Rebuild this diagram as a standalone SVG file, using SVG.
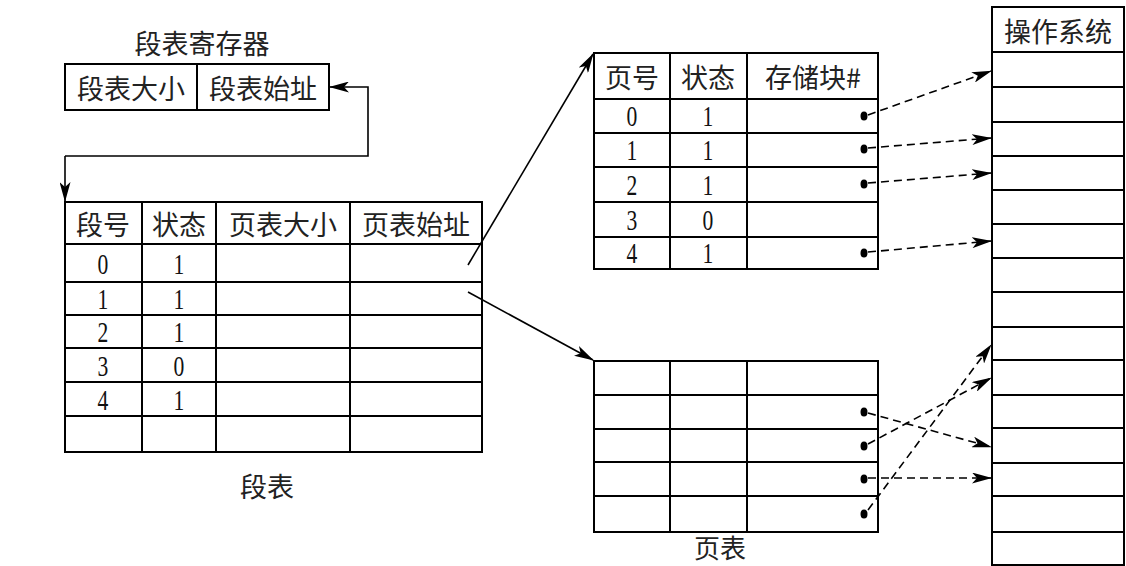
<svg xmlns="http://www.w3.org/2000/svg" width="1126" height="566" viewBox="0 0 1126 566">
<style>
.cell{fill:#fff;stroke:#000;stroke-width:2}
.ln{stroke:#000;stroke-width:2;fill:none}
.cj{font-family:"Noto Sans CJK SC","Noto Sans CJK JP",sans-serif;font-size:27px;fill:#222;text-anchor:middle;dominant-baseline:central}
.num{font-family:"Liberation Serif",serif;font-size:30px;fill:#111;text-anchor:middle;dominant-baseline:central}
.con{stroke:#000;stroke-width:1.6;fill:none}
.dash{stroke:#000;stroke-width:1.6;fill:none;stroke-dasharray:8 5}
.dot{fill:#000}
</style>
<defs>
<marker id="ah" viewBox="0 0 20 11" refX="19" refY="5.5" markerWidth="20" markerHeight="11" markerUnits="userSpaceOnUse" orient="auto">
<path d="M0,0 L20,5.5 L0,11 L5,5.5 z" fill="#000"/>
</marker>
</defs>
<rect width="1126" height="566" fill="#fff"/>

<g id="register">
<text class="cj" x="202" y="42">段表寄存器</text>
<rect class="cell" x="65" y="64" width="264" height="46"/>
<line class="ln" x1="197" y1="64" x2="197" y2="110"/>
<text class="cj" x="131" y="87">段表大小</text>
<text class="cj" x="263" y="87">段表始址</text>
</g>

<g id="segment-table">
<rect class="cell" x="65" y="202" width="417" height="250"/>
<g class="ln">
<line x1="65" y1="244" x2="482" y2="244"/>
<line x1="65" y1="282" x2="482" y2="282"/>
<line x1="65" y1="315" x2="482" y2="315"/>
<line x1="65" y1="348" x2="482" y2="348"/>
<line x1="65" y1="382" x2="482" y2="382"/>
<line x1="65" y1="416" x2="482" y2="416"/>
<line x1="142" y1="202" x2="142" y2="452"/>
<line x1="216" y1="202" x2="216" y2="452"/>
<line x1="350" y1="202" x2="350" y2="452"/>
</g>
<text class="cj" x="103" y="223">段号</text>
<text class="cj" x="179" y="223">状态</text>
<text class="cj" x="283" y="223">页表大小</text>
<text class="cj" x="416" y="223">页表始址</text>
<g transform="translate(103,0) scale(0.72,1)">
<text class="num" x="0" y="264">0</text>
<text class="num" x="0" y="299">1</text>
<text class="num" x="0" y="332">2</text>
<text class="num" x="0" y="366">3</text>
<text class="num" x="0" y="400">4</text>
</g>
<g transform="translate(179,0) scale(0.72,1)">
<text class="num" x="0" y="264">1</text>
<text class="num" x="0" y="299">1</text>
<text class="num" x="0" y="332">1</text>
<text class="num" x="0" y="366">0</text>
<text class="num" x="0" y="400">1</text>
</g>
<text class="cj" x="267" y="485">段表</text>
</g>

<g id="page-table-1">
<rect class="cell" x="594" y="53" width="284" height="216"/>
<g class="ln">
<line x1="594" y1="99" x2="878" y2="99"/>
<line x1="594" y1="133" x2="878" y2="133"/>
<line x1="594" y1="167" x2="878" y2="167"/>
<line x1="594" y1="202" x2="878" y2="202"/>
<line x1="594" y1="237" x2="878" y2="237"/>
<line x1="670" y1="53" x2="670" y2="269"/>
<line x1="747" y1="53" x2="747" y2="269"/>
</g>
<text class="cj" x="632" y="76">页号</text>
<text class="cj" x="708" y="76">状态</text>
<text class="cj" x="813" y="76">存储块#</text>
<g transform="translate(632,0) scale(0.72,1)">
<text class="num" x="0" y="116">0</text>
<text class="num" x="0" y="150">1</text>
<text class="num" x="0" y="185">2</text>
<text class="num" x="0" y="220">3</text>
<text class="num" x="0" y="253">4</text>
</g>
<g transform="translate(708,0) scale(0.72,1)">
<text class="num" x="0" y="116">1</text>
<text class="num" x="0" y="150">1</text>
<text class="num" x="0" y="185">1</text>
<text class="num" x="0" y="220">0</text>
<text class="num" x="0" y="253">1</text>
</g>
<g class="dot">
<ellipse cx="864" cy="116" rx="3.5" ry="4.5"/>
<ellipse cx="864" cy="149" rx="3.5" ry="4.5"/>
<ellipse cx="864" cy="184" rx="3.5" ry="4.5"/>
<ellipse cx="864" cy="253" rx="3.5" ry="4.5"/>
</g>
</g>

<g id="page-table-2">
<rect class="cell" x="594" y="361" width="284" height="171"/>
<g class="ln">
<line x1="594" y1="395" x2="878" y2="395"/>
<line x1="594" y1="429" x2="878" y2="429"/>
<line x1="594" y1="462" x2="878" y2="462"/>
<line x1="594" y1="496" x2="878" y2="496"/>
<line x1="670" y1="361" x2="670" y2="532"/>
<line x1="747" y1="361" x2="747" y2="532"/>
</g>
<g class="dot">
<ellipse cx="864" cy="412" rx="3.5" ry="4.5"/>
<ellipse cx="864" cy="446" rx="3.5" ry="4.5"/>
<ellipse cx="864" cy="479" rx="3.5" ry="4.5"/>
<ellipse cx="864" cy="514" rx="3.5" ry="4.5"/>
</g>
<text class="cj" x="720" y="546" style="font-size:26px">页表</text>
</g>

<g id="memory">
<rect class="cell" x="992" y="7" width="132" height="558"/>
<g class="ln">
<line x1="992" y1="52" x2="1124" y2="52"/>
<line x1="992" y1="87" x2="1124" y2="87"/>
<line x1="992" y1="122" x2="1124" y2="122"/>
<line x1="992" y1="156" x2="1124" y2="156"/>
<line x1="992" y1="190" x2="1124" y2="190"/>
<line x1="992" y1="224" x2="1124" y2="224"/>
<line x1="992" y1="258" x2="1124" y2="258"/>
<line x1="992" y1="292" x2="1124" y2="292"/>
<line x1="992" y1="327" x2="1124" y2="327"/>
<line x1="992" y1="360" x2="1124" y2="360"/>
<line x1="992" y1="395" x2="1124" y2="395"/>
<line x1="992" y1="428" x2="1124" y2="428"/>
<line x1="992" y1="463" x2="1124" y2="463"/>
<line x1="992" y1="496" x2="1124" y2="496"/>
<line x1="992" y1="532" x2="1124" y2="532"/>
</g>
<text class="cj" x="1058" y="30">操作系统</text>
</g>

<g id="connectors">
<polyline class="con" points="65,156 368,156 368,87 330,87" marker-end="url(#ah)"/>
<line class="con" x1="65" y1="156" x2="65" y2="201" marker-end="url(#ah)"/>
<line class="con" x1="468" y1="265" x2="593" y2="54" marker-end="url(#ah)"/>
<line class="con" x1="468" y1="292" x2="593" y2="360" marker-end="url(#ah)"/>
<line class="dash" x1="868" y1="115" x2="991" y2="71" marker-end="url(#ah)"/>
<line class="dash" x1="868" y1="148" x2="991" y2="138" marker-end="url(#ah)"/>
<line class="dash" x1="868" y1="183" x2="991" y2="173" marker-end="url(#ah)"/>
<line class="dash" x1="868" y1="252" x2="991" y2="241" marker-end="url(#ah)"/>
<line class="dash" x1="868" y1="413" x2="991" y2="447" marker-end="url(#ah)"/>
<line class="dash" x1="868" y1="444" x2="991" y2="378" marker-end="url(#ah)"/>
<line class="dash" x1="868" y1="478" x2="991" y2="478" marker-end="url(#ah)"/>
<line class="dash" x1="868" y1="510" x2="991" y2="345" marker-end="url(#ah)"/>
</g>
</svg>
